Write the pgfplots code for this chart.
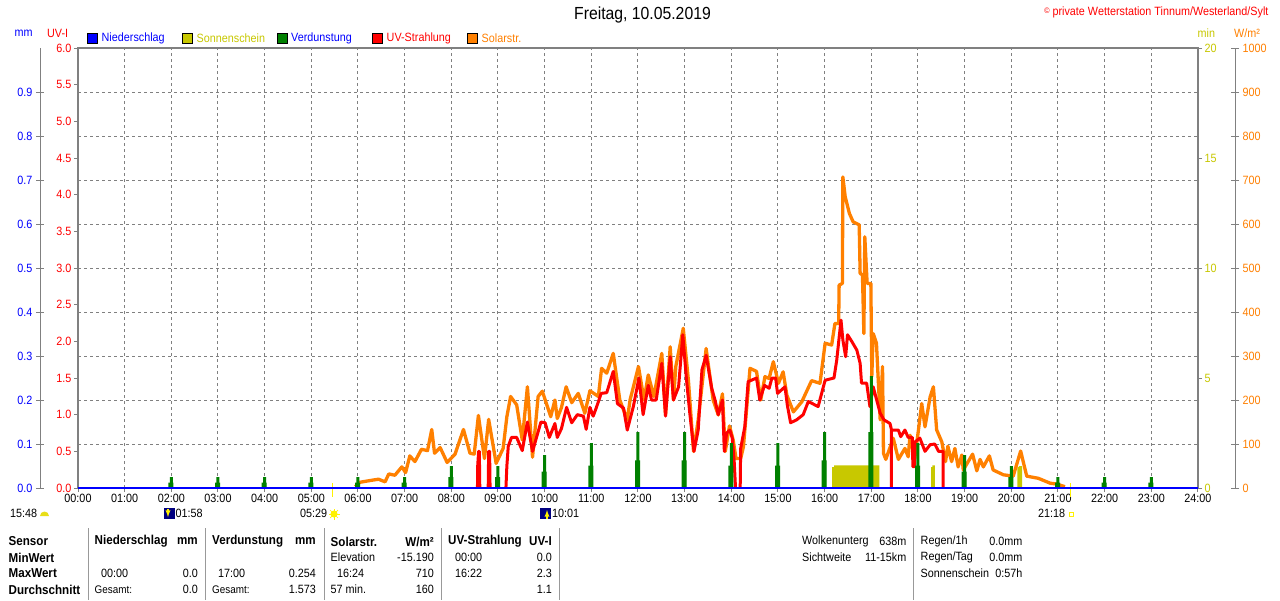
\documentclass[border=0pt]{standalone}
\usepackage{fontspec}
\setmainfont{Liberation Sans}[FakeStretch=0.9]
\usepackage{pgfplots}
\pgfplotsset{compat=1.18}
\usepackage{pgfplotstable}
\definecolor{cOr}{RGB}{255,128,0}
\definecolor{cYe}{RGB}{200,200,0}
\definecolor{cGr}{RGB}{0,128,0}
\definecolor{cGy}{RGB}{128,128,128}
\newcommand\fn{\fontsize{12}{13}\selectfont}
\newcommand\fb{\fontsize{12.9}{13}\selectfont\bfseries}
\pgfplotstableread{
h v
5.94 3
6.04 13
6.26 17
6.44 20
6.58 14
6.66 32
6.79 29
6.94 48
7.02 35
7.11 73
7.22 60
7.36 88
7.49 85
7.58 133
7.64 79
7.76 92
7.91 58
8.08 77
8.26 133
8.40 79
8.49 77
8.58 165
8.71 67
8.80 156
8.96 56
9.11 90
9.19 162
9.27 208
9.40 189
9.52 109
9.63 230
9.74 70
9.86 208
9.95 220
10.13 162
10.22 200
10.27 158
10.36 183
10.46 230
10.58 194
10.72 215
10.86 170
10.97 221
11.15 208
11.22 272
11.33 261
11.47 306
11.61 200
11.77 155
11.83 200
12.01 276
12.13 200
12.22 257
12.34 208
12.51 306
12.59 166
12.69 321
12.76 200
12.81 276
12.97 363
13.08 245
13.19 83
13.29 155
13.46 317
13.61 200
13.72 166
13.81 214
13.87 83
13.96 141
14.04 109
14.10 67
14.20 67
14.26 94
14.40 272
14.54 265
14.63 200
14.72 253
14.81 249
14.90 287
15.01 238
15.11 264
15.19 211
15.33 173
15.51 196
15.72 244
15.90 238
16.01 329
16.15 325
16.22 374
16.30 374
16.31 461
16.38 465
16.39 707
16.44 662
16.53 624
16.61 605
16.74 598
16.76 488
16.81 484
16.84 351
16.86 571
16.91 465
16.99 465
17.01 253
17.04 351
17.11 329
17.19 155
17.24 276
17.26 79
17.31 65
17.47 113
17.58 65
17.72 90
17.79 71
17.83 120
17.93 67
18.01 132
18.08 192
18.15 139
18.26 207
18.33 230
18.40 132
18.51 105
18.59 60
18.64 95
18.72 60
18.79 90
18.86 48
18.94 75
18.97 41
19.17 77
19.26 39
19.33 65
19.40 48
19.53 73
19.61 41
19.83 30
20.04 27
20.20 84
20.33 27
20.58 22
20.83 11
20.97 9
21.15 3
}\solar
\pgfplotstableread{
h v
8.56 0
8.565 0.3
8.585 0.5
8.60 0.5
8.61 0
8.61 nan
8.79 0
8.80 0.5
8.82 0.5
8.83 0
8.83 nan
9.17 0
9.19 0.3
9.22 0.57
9.29 0.69
9.40 0.69
9.52 0.51
9.63 0.90
9.74 0.5
9.83 0.7
9.92 0.9
10.01 0.89
10.10 0.69
10.22 0.88
10.27 0.69
10.36 0.81
10.47 1.1
10.58 0.89
10.70 1.0
10.83 0.98
10.89 0.8
10.97 1.1
11.04 0.98
11.11 1.1
11.21 1.29
11.33 1.3
11.47 1.59
11.56 1.15
11.69 1.09
11.77 0.79
11.90 1.11
12.02 1.5
12.11 1.0
12.22 1.4
12.29 1.2
12.39 1.2
12.51 1.7
12.59 0.98
12.69 1.79
12.76 1.2
12.87 1.38
12.96 2.09
13.04 1.47
13.11 1.02
13.20 0.5
13.29 0.79
13.37 1.61
13.46 1.81
13.58 1.36
13.65 1.2
13.72 1.0
13.81 1.2
13.85 0.5
13.90 0.75
13.97 0.79
14.02 0.68
14.06 0.38
14.09 0
14.09 nan
14.19 0
14.20 0.54
14.29 0.84
14.36 1.45
14.54 1.5
14.61 1.2
14.71 1.4
14.81 1.36
14.87 1.5
14.95 1.5
14.99 1.29
15.15 1.38
15.20 1.13
15.27 0.89
15.40 0.93
15.54 1.0
15.65 1.18
15.86 1.11
16.01 1.47
16.20 1.5
16.26 1.75
16.35 2.29
16.39 2.02
16.45 1.79
16.49 2.09
16.58 2.0
16.69 1.88
16.76 1.7
16.79 1.43
16.90 1.43
16.97 1.11
17.04 1.38
17.19 1.02
17.27 0.93
17.40 0.88
17.43 0.8
17.43 0
17.43 nan
17.46 0.79
17.58 0.79
17.63 0.7
17.72 0.79
17.79 0.69
17.88 0.69
17.89 0.29
17.92 0.29
17.94 0.63
18.04 0.68
18.15 0.5
18.26 0.59
18.36 0.6
18.44 0.5
18.54 0.5
18.54 0
}\uv
\pgfplotstableread{
h v
2 0.025
3 0.025
4 0.025
5 0.025
6 0.025
7 0.025
8 0.05
9 0.05
10 0.075
11 0.102
12 0.127
13 0.127
14 0.102
15 0.102
16 0.127
17 0.254
18 0.102
19 0.075
20 0.05
21 0.025
22 0.025
23 0.025
}\evap
\pgfplotstableread{
h v
1.99 0.012
2.99 0.012
3.99 0.012
4.99 0.012
5.99 0.012
6.99 0.012
7.99 0.025
8.99 0.025
9.99 0.037
10.99 0.051
11.99 0.063
12.99 0.063
13.99 0.051
14.99 0.051
15.99 0.063
16.99 0.127
17.99 0.051
18.99 0.037
19.99 0.025
20.99 0.012
21.99 0.012
22.99 0.012
}\evapb
\pgfplotsset{
 main/.style={scale only axis,width=1120pt,height=440pt,at={(78pt,-488pt)},anchor=south west,xmin=0,xmax=24,clip=false},
 data/.style={main,hide axis},
 /pgf/number format/assume math mode=true,
 /pgf/number format/1000 sep={},
}
\begin{document}
\begin{tikzpicture}[x=1pt,y=-1pt]
\path[use as bounding box,fill=white] (0,0) rectangle (1280,600);
\begin{axis}[main,ymin=0,ymax=1000,
  axis line style={cGy,line width=2pt},
  xtick={0,...,24},
  xticklabels={00:00,01:00,02:00,03:00,04:00,05:00,06:00,07:00,08:00,09:00,10:00,11:00,12:00,13:00,14:00,15:00,16:00,17:00,18:00,19:00,20:00,21:00,22:00,23:00,24:00},
  x tick label style={font=\fn,black,yshift=1pt},
  xtick pos=lower,tick align=outside,
  x tick style={cGy,line width=1pt},
  major tick length=4pt,
  ytick={100,200,...,900},yticklabels={},
  y tick style={draw=none},
  grid=major,
  grid style={cGy,line width=1pt,dash pattern=on 3pt off 3pt},
]
\end{axis}
\begin{axis}[main,ymin=0,ymax=20,
  axis x line=none,axis y line*=right,
  axis line style={cGy,line width=2pt,-},
  ytick={0,5,10,15,20},tick align=outside,major tick length=4pt,
  y tick style={cGy,line width=1pt},
  y tick label style={font=\fn,cYe,xshift=-1pt},
]
\addplot[fill=cYe,draw=none] coordinates {(16.16,0)(16.16,0.95)(16.2,0.95)(16.2,1.03)(17.17,1.03)(17.17,0)};
\addplot[fill=cYe,draw=none] coordinates {(18.28,0)(18.28,0.95)(18.31,0.95)(18.31,1.03)(18.36,1.03)(18.36,0)};
\addplot[fill=cYe,draw=none] coordinates {(20.13,0)(20.13,0.95)(20.16,0.95)(20.16,1.0)(20.23,1.0)(20.23,0)};
\end{axis}
\begin{axis}[data,ymin=0,ymax=1000]
\addplot[cOr,line width=3.3pt,line join=round] table[x=h,y=v] {\solar};
\addplot[yellow,line width=1.3pt] coordinates {(5.46,-20)(5.46,11)};
\addplot[yellow,line width=1.3pt] coordinates {(21.27,-20)(21.27,11)};
\end{axis}
\begin{axis}[main,ymin=0,ymax=6,
  axis x line=none,axis y line*=left,
  axis line style={cGy,line width=2pt,-},
  ytick={0,0.5,...,6},tick align=outside,major tick length=4pt,
  y tick style={cGy,line width=1pt},
  yticklabel style={font=\fn,red,/pgf/number format/fixed,/pgf/number format/fixed zerofill,/pgf/number format/precision=1,xshift=1pt},
  unbounded coords=jump,
]
\addplot[red,line width=3pt,line join=round] table[x=h,y=v] {\uv};
\end{axis}
\begin{axis}[data,ymin=0,ymax=1]
\addplot[ybar,bar shift=0pt,bar width=5pt,fill=cGr,draw=none] table[x=h,y=v] {\evapb};
\addplot[ybar,bar shift=0pt,bar width=3pt,fill=cGr,draw=none] table[x=h,y=v] {\evap};
\addplot[blue,line width=1.5pt] coordinates {(0,0)(24,0)};
\end{axis}
\begin{axis}[scale only axis,width=1pt,height=440pt,at={(40pt,-488pt)},anchor=south west,
  xmin=0,xmax=1,ymin=0,ymax=1,
  axis x line=none,axis y line=left,axis line style={cGy,line width=1pt,-},
  ytick={0,0.1,...,0.9},tick align=center,major tick length=8pt,
  y tick style={cGy,line width=1pt},
  yticklabel style={font=\fn,blue,/pgf/number format/fixed,/pgf/number format/fixed zerofill,/pgf/number format/precision=1},
]
\end{axis}
\begin{axis}[scale only axis,width=1pt,height=440pt,at={(1234pt,-488pt)},anchor=south west,
  xmin=0,xmax=1,ymin=0,ymax=1000,
  axis x line=none,axis y line=right,axis line style={cGy,line width=1pt,-},
  ytick={0,100,...,1000},tick align=center,major tick length=8pt,
  y tick style={cGy,line width=1pt},
  yticklabel style={font=\fn,cOr},
]
\end{axis}
\node[anchor=center,font=\fontsize{17.5}{18}\selectfont] at (642.5,15) {Freitag, 10.05.2019};
\node[anchor=east,red,font=\fn] at (1272,12) {\raisebox{1.5pt}{\fontsize{8}{9}\selectfont ©} private Wetterstation Tinnum/Westerland/Sylt};
\node[blue,font=\fn,anchor=west,inner sep=0] at (14.5,33) {mm};
\node[red,font=\fn,anchor=west,inner sep=0] at (47,33) {UV-I};
\node[cYe,font=\fn,anchor=west,inner sep=0] at (1197.5,33) {min};
\node[cOr,font=\fn,anchor=west,inner sep=0] at (1234,33) {W/m²};
\foreach \x/\c in {87/blue,182/cYe,277.5/cGr,372.5/red,467/cOr}
  \draw[black,fill=\c,line width=1pt] (\x,33) rectangle ++(10,10);
\node[blue,font=\fn,anchor=west,inner sep=0] at (101.5,38) {Niederschlag};
\node[cYe,font=\fn,anchor=west,inner sep=0] at (196.5,38) {Sonnenschein};
\node[blue,font=\fn,anchor=west,inner sep=0] at (291,38) {Verdunstung};
\node[red,font=\fn,anchor=west,inner sep=0] at (386.5,38) {UV-Strahlung};
\node[cOr,font=\fn,anchor=west,inner sep=0] at (481.5,38) {Solarstr.};
\tikzset{L/.style={anchor=west,inner sep=0,font=\fn},R/.style={anchor=east,inner sep=0,font=\fn},
 BL/.style={anchor=west,inner sep=0,font=\fb},BR/.style={anchor=east,inner sep=0,font=\fb}}
\node[L] at (10,513) {15:48};
\fill[yellow!90!black] (40,516) arc[start angle=180,end angle=360,radius=4.5] -- cycle;
\fill[blue!50!black] (164,508) rectangle (175,519);
\draw[yellow,line width=1.3pt,-latex] (168,508.5) -- (168,517);
\node[L] at (175.5,513) {01:58};
\node[L] at (300,513) {05:29};
\fill[yellow] (334,514) circle (3.5);
\foreach \a in {0,45,...,315} \draw[yellow,line width=.7pt] (334,514) -- ++(\a:5.5);
\fill[blue!50!black] (540,508) rectangle (551,519);
\draw[yellow,line width=1.3pt,-latex] (547,519) -- (547,510);
\node[L] at (552,513) {10:01};
\node[L] at (1038,513) {21:18};
\draw[yellow,line width=1pt] (1069.5,512.5) rectangle (1073.5,516.5);
\foreach \x in {88.5,205,324,441,559,913.5} \draw[gray!80,line width=1pt] (\x,528) -- (\x,600);
\node[BL] at (8.5,541.5) {Sensor};
\node[BL] at (8.5,557.5) {MinWert};
\node[BL] at (8.5,573.5) {MaxWert};
\node[BL] at (8.5,589.5) {Durchschnitt};
\node[BL] at (94.5,541.5) {Niederschlag};
\node[BR] at (198,541.5) {mm};
\node[L] at (101,573.5) {00:00};
\node[R] at (198,573.5) {0.0};
\node[L,font=\fontsize{11}{12}\selectfont] at (94.5,589.5) {Gesamt:};
\node[R] at (198,589.5) {0.0};
\node[BL] at (212,541.5) {Verdunstung};
\node[BR] at (316,541.5) {mm};
\node[L] at (218,573.5) {17:00};
\node[R] at (316,573.5) {0.254};
\node[L,font=\fontsize{11}{12}\selectfont] at (212,589.5) {Gesamt:};
\node[R] at (316,589.5) {1.573};
\node[BL] at (330.5,541.5) {Solarstr.};
\node[BR] at (434,541.5) {W/m²};
\node[L] at (330.5,557.5) {Elevation};
\node[R] at (434,557.5) {-15.190};
\node[L] at (337,573.5) {16:24};
\node[R] at (434,573.5) {710};
\node[L] at (330.5,589.5) {57 min.};
\node[R] at (434,589.5) {160};
\node[BL] at (448,541.5) {UV-Strahlung};
\node[BR] at (552,541.5) {UV-I};
\node[L] at (455,557.5) {00:00};
\node[R] at (552,557.5) {0.0};
\node[L] at (455,573.5) {16:22};
\node[R] at (552,573.5) {2.3};
\node[R] at (552,589.5) {1.1};
\node[L] at (802,541.5) {Wolkenunterg};
\node[R] at (906.5,541.5) {638m};
\node[L] at (802,557.5) {Sichtweite};
\node[R] at (906.5,557.5) {11-15km};
\node[L] at (920.5,541.5) {Regen/1h};
\node[R] at (1022.5,541.5) {0.0mm};
\node[L] at (920.5,557.5) {Regen/Tag};
\node[R] at (1022.5,557.5) {0.0mm};
\node[L] at (920.5,573.5) {Sonnenschein};
\node[R] at (1022.5,573.5) {0:57h};
\end{tikzpicture}
\end{document}
